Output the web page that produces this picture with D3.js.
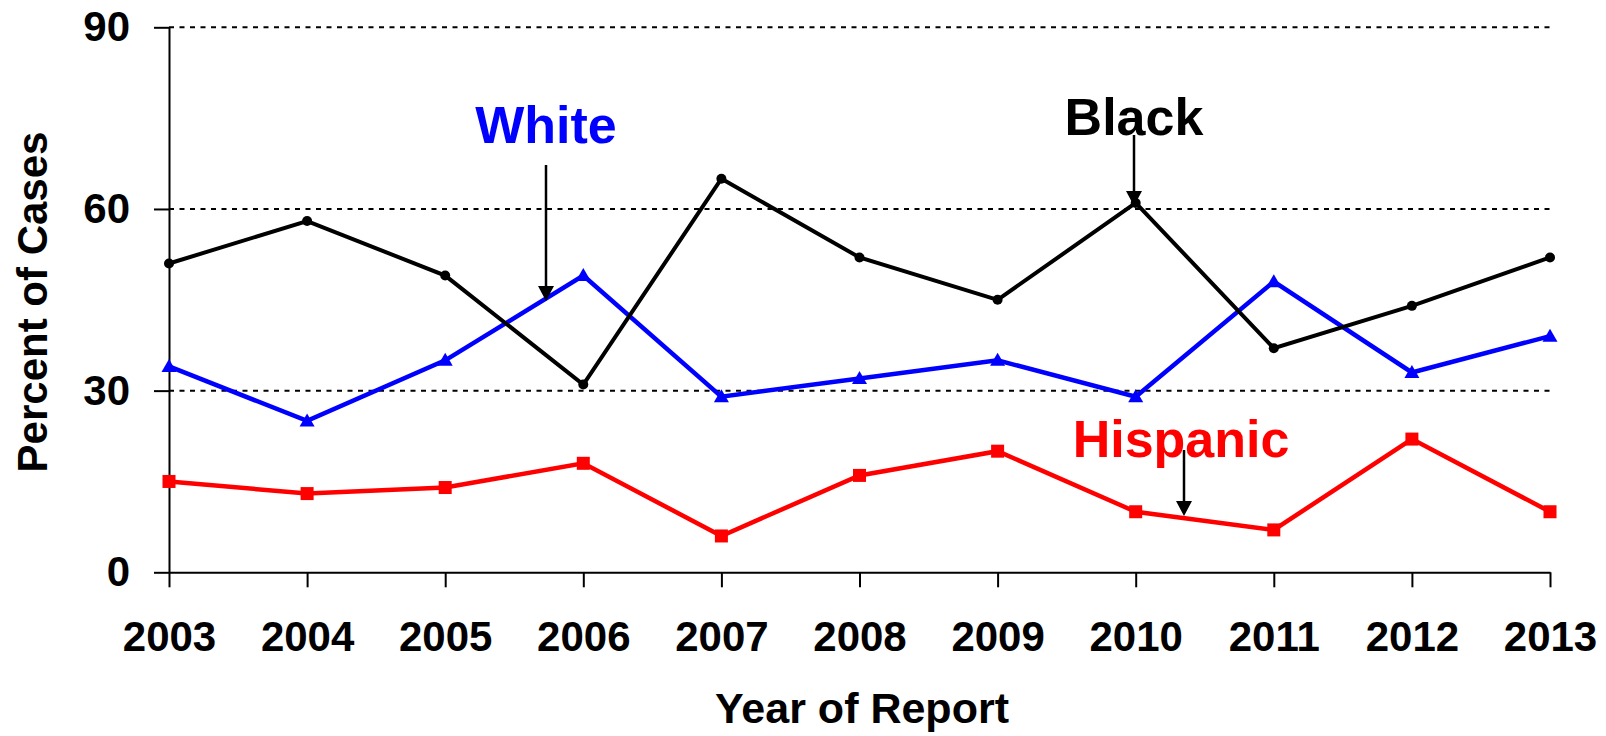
<!DOCTYPE html>
<html><head><meta charset="utf-8">
<script src="https://cdn.jsdelivr.net/npm/d3@7/dist/d3.min.js"></script>
<style>html,body{margin:0;padding:0;background:#fff;}svg{display:block;}</style>
</head><body>
<svg id="c" width="1606" height="736"></svg>
<script>
const years = [2003,2004,2005,2006,2007,2008,2009,2010,2011,2012,2013];
const black = [51,58,49,31,65,52,45,61,37,44,52];
const white = [34,25,35,49,29,32,35,29,48,33,39];
const hispanic = [15,13,14,18,6,16,20,10,7,22,10];
const yTicks = [0,30,60,90];

const svg = d3.select("#c");
const font = "'Liberation Sans', Arial, sans-serif";
const x = d3.scaleLinear().domain([2003,2013]).range([169,1550]);
const y = d3.scaleLinear().domain([0,90]).range([572.3,27.3]);

// gridlines
svg.append("g").selectAll("line").data(yTicks.filter(d=>d>0)).join("line")
  .attr("x1",169).attr("x2",1550).attr("y1",d=>y(d)).attr("y2",d=>y(d))
  .attr("stroke","#000").attr("stroke-width",2).attr("stroke-dasharray","5,5.5");

// axes
const yAxis = svg.append("g").attr("transform","translate(169,0)")
  .call(d3.axisLeft(y).tickValues(yTicks).tickSize(15).tickPadding(24).tickSizeOuter(0));
const xAxis = svg.append("g").attr("transform","translate(0,572.3)")
  .call(d3.axisBottom(x).tickValues(years).tickFormat(d3.format("d")).tickSize(15).tickPadding(34).tickSizeOuter(0));
[yAxis,xAxis].forEach(a=>{
  a.select(".domain").attr("stroke","#000").attr("stroke-width",2);
  a.selectAll(".tick line").attr("stroke","#000").attr("stroke-width",2);
  a.selectAll("text").attr("fill","#000").style("font-family",font).style("font-weight","bold").style("font-size","42px");
});
xAxis.selectAll(".tick text").attr("dy","0.71em");

// axis titles
svg.append("text").attr("transform","translate(47,302) rotate(-90)").attr("text-anchor","middle")
  .style("font-family",font).style("font-weight","bold").style("font-size","42px").text("Percent of Cases");
svg.append("text").attr("x",862).attr("y",723).attr("text-anchor","middle")
  .style("font-family",font).style("font-weight","bold").style("font-size","43px").text("Year of Report");

// lines
const line = d3.line().x((d,i)=>x(years[i])).y(d=>y(d));
function series(data,color,width){
  svg.append("path").datum(data).attr("d",line).attr("fill","none").attr("stroke",color)
    .attr("stroke-width",width).attr("stroke-linejoin","miter");
}
series(hispanic,"#ff0000",4.5);
series(white,"#0000ff",4.5);
series(black,"#000000",4);

// markers
svg.append("g").selectAll("rect").data(hispanic).join("rect")
  .attr("x",(d,i)=>x(years[i])-6.5).attr("y",d=>y(d)-6.5).attr("width",13).attr("height",13).attr("fill","#ff0000");
svg.append("g").selectAll("path").data(white).join("path")
  .attr("transform",(d,i)=>`translate(${x(years[i])},${y(d)})`)
  .attr("d","M0,-7.5L7.5,5.5L-7.5,5.5Z").attr("fill","#0000ff");
svg.append("g").selectAll("circle").data(black).join("circle")
  .attr("cx",(d,i)=>x(years[i])).attr("cy",d=>y(d)).attr("r",5).attr("fill","#000");

// annotations
const defs = svg.append("defs");
function arrow(x0,y0,y1){
  svg.append("line").attr("x1",x0).attr("x2",x0).attr("y1",y0).attr("y2",y1-14)
    .attr("stroke","#000").attr("stroke-width",2.5);
  svg.append("path").attr("d",`M${x0-8},${y1-15}L${x0+8},${y1-15}L${x0},${y1}Z`).attr("fill","#000");
}
function label(t,cx,by,color){
  svg.append("text").attr("x",cx).attr("y",by).attr("text-anchor","middle").attr("fill",color)
    .style("font-family",font).style("font-weight","bold").style("font-size","52px").text(t);
}
label("White",546,143,"#0000ff");
arrow(546,165,301);
label("Black",1134,135,"#000");
arrow(1134,135,206);
label("Hispanic",1181,457,"#ff0000");
arrow(1184,450,516);
</script>
</body></html>
